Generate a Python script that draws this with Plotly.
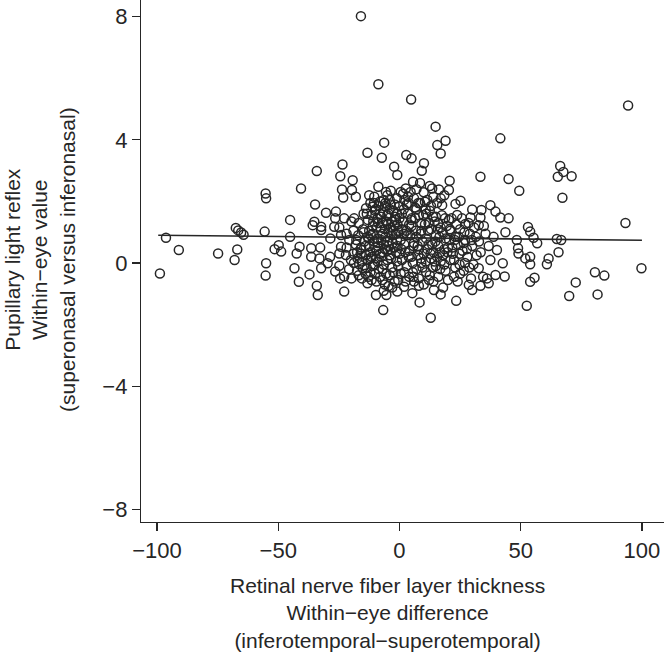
import plotly.graph_objects as go

# Within-eye RNFL difference (x) and pupillary light reflex within-eye value (y)
rnfl_diff = [
    -15.9, -8.7, 4.8, 14.9, 94.3, 41.6, -55.2, -55.0, -6.3, -13.2, -7.3, -2.2, -0.9, -34.1, -23.5, -24.4,
    -19.3, -23.7, -19.6, -23.2, -18.0, -40.6, -34.8, -45.1, -30.3, -26.2, -26.5, -22.8, -18.7, -35.1, -32.3,
    -26.9, -13.8, -8.7, -5.6, -3.6, -10.4, -11.1,
    19.0, 15.6, 17.0, 2.8, 5.0, 10.1, 9.2, 33.4, 45.0, 49.4, 20.7, 20.4, 13.5, 16.3, 5.6, 2.6, 0.5, 4.6,
    17.0, 10.5, 25.2, 23.1, 37.5, 30.0, 33.8, 39.6, 41.6, 45.0, 29.3, 33.4, 17.6, 23.8, 27.2, 32.7, 20.4,
    66.3, 65.3, 67.6, 71.0, 67.2, 93.2,
    -96.3, -91.0, -98.8, -74.8, -66.9, -68.0, -67.5, -66.5, -65.3, -64.3, -55.6, -55.0, -55.2,
    -45.1, -49.8, -51.5, -48.8, -41.2, -42.4, -36.4, -32.7, -36.4, -33.0, -43.3, -37.1, -32.3, -41.5, -34.1,
    -33.7, -28.6, -29.6, -24.8, -24.1, -22.1, -26.5, -24.8, -24.5, -22.8, -22.8, -28.5, -32.3, -35.8, -24.1,
    -20.7, -16.6, -15.2, -17.3, -13.2, -9.7, -5.4, -6.7, -7.0, -0.9,
    12.9, 8.3, 23.4, 5.3, 14.2, 17.0, 28.6, 30.0, 33.4, 36.8, 36.1, 39.6, 43.4, 42.6, 52.5, 43.7, 48.4,
    48.9, 49.1, 51.9, 40.2, 32.7, 37.5, 1.9, 8.0, 12.2,
    53.9, 55.3, 56.8, 64.9, 66.7, 65.6, 61.5, 60.8, 53.9, 53.9, 55.7, 53.9, 72.7, 70.0, 80.6, 84.5, 81.7,
    99.8, 53.0,
    -12, -10, -8, -6, -4, -2, -1, -9, -7, -5, -3, -11, -6, -2, 0, -4, -8, -1, -5, -13,
    -19, -17, -15, -13, -11, -9, -7, -5, -3, -1, -18, -16, -14, -12, -10, -8, -6, -4, -2, 0,
    -19, -13, -11, -9, -7, -5, -3, -1, -10, -8, -4, -2, -6, -12, -20, -16, -14, -3, -9, -5,
    1, 3, 5, 7, 9, 11, 13, 15, 17, 19, 21, 23, 25, 27, 29, 2, 4, 6, 8, 10, 12, 14, 16, 18, 20, 22, 24, 26,
    28, 30, 1, 3, 5, 7, 9, 11, 13, 15, 17, 19, 21, 23, 25, 27, 4, 8, 16, 20, 24, 2, 6, 18, 14, 10,
    1, 3, 5, 7, 9, 11, 13, 15, 2, 6, 8, 12, 14, 4, 0, 10, 16, 7,
    -13.5, -12.5, -11.5, -10.5, -9.5, -8.5, -7.5, -6.5, -5.5, -4.5, -3.5, -2.5, -1.5, -0.5, -12.5, -10.5,
    -7.5, -4.5, -1.5, -6.5,
    -17.5, -15.5, -14.5, -13.5, -12.5, -11.5, -10.5, -9.5, -8.5, -7.5, -6.5, -5.5, -4.5, -3.5, -2.5, -1.5,
    -0.5, -9.5, -6.5, -11.5, -15.5, -17.5, -0.5, -4.5,
    0.5, 1.5, 2.5, 3.5, 4.5, 5.5, 6.5, 7.5, 8.5, 9.5, 10.5, 11.5, 12.5, 13.5, 14.5, 15.5, 16.5, 17.5, 18.5,
    19.5, 20.5, 21.5, 22.5, 23.5, 24.5, 0.5, 2.5, 5.5, 9.5, 12.5, 14.5, 18.5, 22.5, 26.5, 28.5, 30.5, 31.5,
    33.5, 35.5, 34.5, 26.5, 29.5,
    1.5, 3.5, 8.5, 11.5, 12.5, 15.5, 18.5, 6.5,
    -11.8, -10.8, -9.8, -8.8, -7.8, -6.8, -5.8, -4.8, -3.8, -2.8, -1.8, -0.8, -11.8, -9.8, -8.8, -6.8,
    -5.8, -3.8, -2.8, -0.8,
    0.8, 1.8, 2.8, 3.8, 4.8, 5.8, 6.8, 7.8, 8.8, 9.8, 10.8, 11.8, 12.8, 13.8, 14.8, 15.8, 16.8, 17.8,
    18.8, 19.8, 20.8, 21.8, 3.8, 7.8, 10.8, 13.8, 16.8, 5.8, 1.8, 8.8,
    22.8, 24.8, 25.8, 27.8, 28.8, 30.8, 31.8, 32.8, 34.8, 36.8, 38.8, 24.8, 26.8, 29.8,
    -24.8, -21.8, -20.8, -19.8, -18.8, -17.8, -16.8, -15.8, -14.8, -13.8, -12.8, -21.8, -19.8, -16.8,
    -14.8, -12.8,
]
plr_value = [
    8.02, 5.81, 5.31, 4.43, 5.12, 4.05, 2.26, 2.10, 3.91, 3.58, 3.42, 3.13, 2.86, 2.99, 3.20, 2.82,
    2.69, 2.39, 2.37, 2.13, 2.15, 2.42, 1.90, 1.40, 1.63, 1.67, 1.45, 1.45, 1.45, 1.34, 1.18,
    1.18, 1.78, 2.48, 2.31, 2.35, 2.15, 1.83,
    3.97, 3.83, 3.56, 3.51, 3.40, 3.24, 3.00, 2.80, 2.73, 2.35, 2.67, 2.37, 2.42, 2.39, 2.64, 2.42, 2.31, 2.31,
    2.10, 1.99, 2.02, 1.92, 1.88, 1.74, 1.72, 1.67, 1.48, 1.45, 1.48, 1.48, 1.88, 1.56, 1.27, 1.23, 1.40,
    3.15, 2.80, 2.96, 2.82, 2.12, 1.30,
    0.82, 0.42, -0.34, 0.31, 0.44, 0.10, 1.14, 1.06, 0.99, 0.92, 1.02, -0.01, -0.41,
    0.85, 0.58, 0.45, 0.37, 0.53, 0.31, 0.48, 0.50, 0.20, 0.15, -0.17, -0.37, -0.17, -0.61, -0.74,
    -1.04, 0.20, -0.01, 0.31, 0.53, 0.26, -0.28, -0.09, -0.50, -0.44, -0.93, 0.80, 1.07, 1.23, 0.91,
    0.75, -0.04, -0.17, 0.15, -0.66, -1.04, -1.04, -1.53, -0.55, -0.93,
    -1.78, -1.28, -1.23, -0.98, -0.88, -1.02, -0.71, -0.88, -0.74, -0.66, -0.50, -0.39, -0.44, -0.01, -1.39,
    1.00, 0.75, 0.48, 0.31, 0.15, 0.42, -0.17, 0.10, -0.77, -0.74, -0.55,
    1.02, 0.82, 0.64, 0.78, 0.75, 0.35, 0.15, -0.04, 0.20, -0.04, -0.48, -0.61, -0.63, -1.07, -0.30, -0.41,
    -1.02, -0.17, 1.17,
    1.95, 1.7, 2.0, 1.85, 2.05, 1.9, 1.6, 1.45, 1.3, 1.55, 1.35, 1.2, 1.1, 1.2, 1.45, 1.75, 1.6, 2.1, 2.2, 1.4,
    1.05, 0.9, 1.1, 0.85, 0.95, 0.8, 0.95, 0.7, 0.9, 0.75, 0.6, 0.45, 0.55, 0.35, 0.5, 0.3, 0.45, 0.25, 0.5, 0.3,
    0.3, 0.1, -0.1, 0.05, -0.2, 0.1, -0.15, 0.05, -0.35, -0.45, -0.4, -0.6, -0.7, -0.3, 0.1, 0.3, -0.35, -0.8, 0.65, 0.4,
    1.1, 0.9, 1.2, 0.85, 1.05, 0.8, 1.1, 0.9, 1.15, 0.8, 1.05, 0.85, 1.1, 0.75, 0.95, 0.6, 0.4, 0.65, 0.45, 0.3,
    0.6, 0.35, 0.55, 0.25, 0.5, 0.3, 0.6, 0.4, 0.2, 0.55, 0.1, -0.1, 0.2, -0.2, 0.0, -0.3, 0.15, -0.1, 0.05,
    -0.25, 0.1, -0.15, -0.35, 0.0, -0.45, -0.5, -0.45, -0.55, -0.6, -0.3, -0.6, -0.8, -0.6, -0.7,
    1.6, 1.9, 1.45, 1.75, 1.3, 1.6, 1.85, 1.5, 2.05, 2.1, 1.55, 1.3, 2.15, 1.25, 1.85, 2.3, 1.3, 2.4,
    1.6, 2.2, 1.55, 1.95, 1.15, 1.85, 1.5, 2.05, 1.35, 1.6, 1.15, 1.7, 1.4, 1.05, 1.05, 0.7,
    0.75, 1.0, 0.95, 0.6,
    0.35, 0.05, 0.7, -0.15, 0.55, 0.2, -0.05, 0.4, -0.2, 0.2, -0.05, -0.35, 0.55, 0.15, -0.3, 0.35,
    -0.1, -0.6, -0.9, -0.55, -0.5, -0.25, -0.55, -0.75,
    0.75, 1.35, 0.35, 1.6, 0.9, 0.0, 1.45, 0.55, 1.95, 0.7, 1.25, 0.45, 1.7, 0.6, 1.35, 0.2, 0.85, 1.55, 0.45,
    1.2, 0.75, 1.45, 0.1, 1.25, 0.85, -0.35, -0.6, -0.3, -0.15, -0.4, 0.05, -0.05, -0.45, 0.65, 1.3, -0.05, 0.85,
    0.35, 0.95, -0.45, -0.25, -0.5,
    2.25, 2.15, 2.6, 2.05, 2.5, 1.95, 2.2, 1.8,
    0.15, 1.35, 1.75, 0.55, 1.15, 1.65, 0.85, 1.25, 1.9, 0.65, 1.5, 1.25, 0.9, 0.15, 1.3, 0.35,
    1.95, 0.45, 1.05, 0.55,
    0.45, 1.75, 1.05, 0.2, 1.4, 0.55, 1.05, 0.25, 0.95, 1.55, 0.05, 1.05, 0.3, 1.5, 0.7, 1.1, 0.35, 1.0,
    1.45, 0.35, 1.1, 0.5, 1.95, 1.95, 1.75, -0.15, -0.2, -0.45, 0.95, 0.15,
    0.75, 0.3, 1.45, 0.45, -0.15, 1.15, 0.25, 0.7, 1.2, 0.55, 0.85, -0.05, 1.0, 0.75,
    1.15, 0.5, -0.2, 1.35, 0.0, 0.75, 1.3, 0.5, 1.0, 0.25, -0.45, 0.95, -0.5, -0.4,
    1.6, 0.8,
]

# Fitted regression line end points
fit_x = [-99.5, 100.0]
fit_y = [0.90, 0.74]

x_ticks = [-100, -50, 0, 50, 100]
y_ticks = [-8, -4, 0, 4, 8]

x_title_lines = ["Retinal nerve fiber layer thickness", "Within\u2212eye difference",
                 "(inferotemporal\u2212superotemporal)"]
y_title_lines = ["Pupillary light reflex", "Within\u2212eye value",
                 "(superonasal versus inferonasal)"]

ink = "#262626"
font_family = "Liberation Sans, Arial, sans-serif"

fig = go.Figure()
fig.add_trace(go.Scatter(
    x=rnfl_diff, y=plr_value, mode="markers",
    marker=dict(symbol="circle-open", size=9, color=ink, line=dict(width=1.5, color=ink)),
    showlegend=False, hoverinfo="skip",
))
fig.add_trace(go.Scatter(
    x=fit_x, y=fit_y, mode="lines",
    line=dict(color=ink, width=1.6),
    showlegend=False, hoverinfo="skip",
))

axis_common = dict(
    showgrid=False, zeroline=False, showline=True, linecolor=ink, linewidth=1.2,
    ticks="outside", ticklen=8, tickwidth=1.2, tickcolor=ink, automargin=False,
    tickfont=dict(family=font_family, size=22, color=ink),
)
fig.update_xaxes(range=[-106.6, 109.1], tickvals=x_ticks, **axis_common)
fig.update_yaxes(range=[-8.415, 8.545], tickvals=y_ticks, **axis_common)

fig.add_annotation(
    text="<br>".join(x_title_lines), xref="paper", yref="paper", x=0.472, y=-0.1743,
    xanchor="center", yanchor="middle", showarrow=False, borderpad=0,
    font=dict(family=font_family, size=21, color=ink),
)
fig.add_annotation(
    text="<br>".join(y_title_lines), xref="paper", yref="paper", x=-0.193, y=0.502,
    xanchor="center", yanchor="middle", textangle=-90, showarrow=False, borderpad=0,
    font=dict(family=font_family, size=21, color=ink),
)

fig.update_layout(
    template="none",
    width=664, height=652,
    margin=dict(l=141, r=0, t=0, b=130, pad=0),
    plot_bgcolor="white", paper_bgcolor="white",
    hovermode=False,
)

# remove the browser's default 8px page margin so the figure fills the window exactly
fig.write_html(
    "out.html",
    config={"displayModeBar": False, "staticPlot": True},
    post_script="document.body.style.margin='0';",
)
